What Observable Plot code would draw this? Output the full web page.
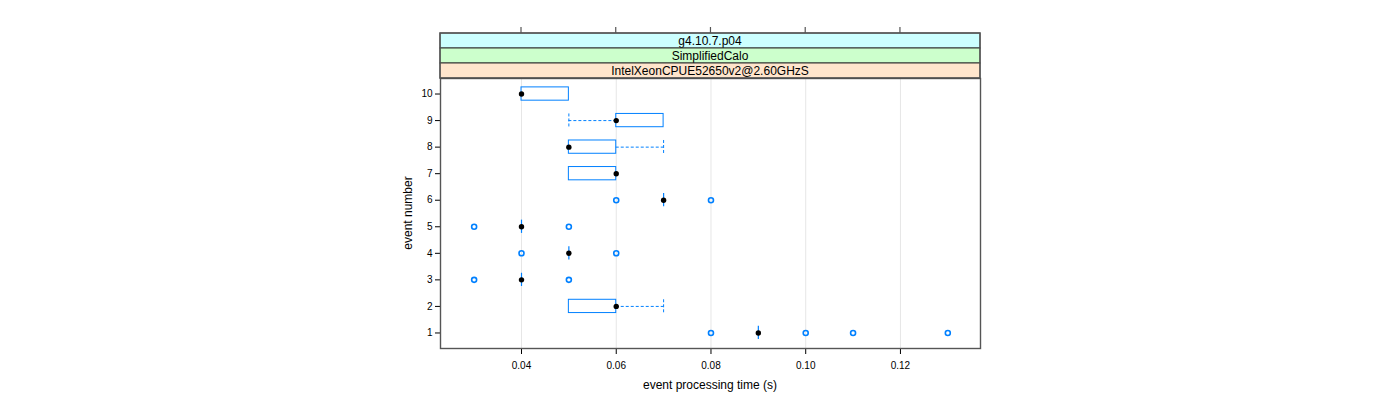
<!DOCTYPE html>
<html>
<head>
<meta charset="utf-8">
<script src="https://cdn.jsdelivr.net/npm/d3@7"></script>
<script src="https://cdn.jsdelivr.net/npm/@observablehq/plot@0.6"></script>
<style>
  html, body { margin: 0; padding: 0; background: #fff; }
  #chart { width: 1400px; height: 400px; }
  svg { font-family: "Liberation Sans", Arial, Helvetica, sans-serif; }
</style>
</head>
<body>
<div id="chart"></div>
<script>
// ---- data ----
const events       = ["1", "2", "3", "4", "5", "6", "7", "8", "9", "10"];
const lowerWhisker = [0.09, 0.05, 0.04, 0.05, 0.04, 0.07, 0.05, 0.05, 0.05, 0.04];
const q1           = [0.09, 0.05, 0.04, 0.05, 0.04, 0.07, 0.05, 0.05, 0.06, 0.04];
const median       = [0.09, 0.06, 0.04, 0.05, 0.04, 0.07, 0.06, 0.05, 0.06, 0.04];
const q3           = [0.09, 0.06, 0.04, 0.05, 0.04, 0.07, 0.06, 0.06, 0.07, 0.05];
const upperWhisker = [0.09, 0.07, 0.04, 0.05, 0.04, 0.07, 0.06, 0.07, 0.07, 0.05];
const outlierEvents = ["1", "1", "1", "1", "3", "3", "4", "4", "5", "5", "6", "6"];
const outlierValues = [0.08, 0.10, 0.11, 0.13, 0.03, 0.05, 0.04, 0.06, 0.03, 0.05, 0.06, 0.08];
const xTicks = [0.04, 0.06, 0.08, 0.10, 0.12];
const strips = ["g4.10.7.p04", "SimplifiedCalo", "IntelXeonCPUE52650v2@2.60GHzS"];
const stripColors = ["#ccffff", "#ccffcc", "#ffe5cc"];
const xLabel = "event processing time (s)";
const yLabel = "event number";

const stats = events.map((e, i) => ({
  event: e, lo: lowerWhisker[i], q1: q1[i], med: median[i], q3: q3[i], hi: upperWhisker[i]
}));
const outliers = outlierEvents.map((e, i) => ({event: e, value: outlierValues[i]}));

const blue = "#0080ff";
const W = 1400, H = 400;
const mL = 440, mR = 420, mT = 78, mB = 52;

const plot = Plot.plot({
  width: W,
  height: H,
  marginLeft: mL,
  marginRight: mR,
  marginTop: mT,
  marginBottom: mB,
  style: {fontFamily: "'Liberation Sans', Arial, Helvetica, sans-serif", fontSize: "10px", color: "#000", background: "#fff"},
  x: {domain: [0.0229, 0.1369]},
  y: {type: "band", domain: events.slice().reverse(), paddingInner: 0.5, paddingOuter: 0.335, align: 0.5, round: false},
  marks: [
    Plot.ruleX(xTicks, {stroke: "#e6e6e6", strokeWidth: 1}),
    // whiskers
    Plot.ruleY(stats.filter(d => d.lo < d.q1), {x1: "lo", x2: "q1", y: "event", stroke: blue, strokeDasharray: "3,2", strokeWidth: 1}),
    Plot.ruleY(stats.filter(d => d.hi > d.q3), {x1: "q3", x2: "hi", y: "event", stroke: blue, strokeDasharray: "3,2", strokeWidth: 1}),
    Plot.tickX(stats.filter(d => d.lo < d.q1), {x: "lo", y: "event", stroke: blue, strokeDasharray: "3,2", strokeWidth: 1}),
    Plot.tickX(stats.filter(d => d.hi > d.q3), {x: "hi", y: "event", stroke: blue, strokeDasharray: "3,2", strokeWidth: 1}),
    // boxes
    Plot.barX(stats.filter(d => d.q3 > d.q1), {x1: "q1", x2: "q3", y: "event", fill: "none", stroke: blue, strokeWidth: 1}),
    Plot.tickX(stats.filter(d => d.q3 === d.q1), {x: "q1", y: "event", stroke: blue, strokeWidth: 1.2}),
    // outliers
    Plot.dot(outliers, {x: "value", y: "event", r: 2.5, stroke: blue, strokeWidth: 1.6, fill: "none"}),
    // medians
    Plot.dot(stats, {x: "med", y: "event", r: 2.7, fill: "#000", stroke: "none"}),
    // axes
    Plot.axisX(xTicks, {anchor: "bottom", tickSize: 6, tickPadding: 7, tickFormat: d3.format(".2f"), label: null, fontSize: 10}),
    Plot.axisY({anchor: "left", tickSize: 5, tickPadding: 3, label: null, fontSize: 10}),
    Plot.frame({stroke: "#555", strokeWidth: 1.4})
  ]
});

document.getElementById("chart").appendChild(plot);

// ---- decorations: strips, top ticks, axis titles ----
const svg = d3.select(plot);
const xs = plot.scale("x");
const x0 = mL, x1 = W - mR;
const stripH = 15;
const stripTop = mT - stripH * strips.length;

strips.forEach((s, i) => {
  const y = stripTop + i * stripH;
  svg.append("rect").attr("x", x0).attr("y", y).attr("width", x1 - x0).attr("height", stripH)
    .attr("fill", stripColors[i]).attr("stroke", "#333").attr("stroke-width", 1);
  svg.append("text").attr("x", (x0 + x1) / 2).attr("y", y + stripH / 2).attr("dy", "0.36em")
    .attr("text-anchor", "middle").attr("font-size", 12).attr("fill", "#000").text(s);
});
svg.append("rect").attr("x", x0).attr("y", stripTop).attr("width", x1 - x0).attr("height", mT - stripTop)
  .attr("fill", "none").attr("stroke", "#555").attr("stroke-width", 1.4);

xTicks.forEach(v => {
  const px = xs.apply(v);
  svg.append("line").attr("x1", px).attr("x2", px).attr("y1", stripTop - 6).attr("y2", stripTop)
    .attr("stroke", "#555").attr("stroke-width", 1.2);
});

svg.append("text").attr("x", (x0 + x1) / 2).attr("y", H - 11)
  .attr("text-anchor", "middle").attr("font-size", 12).attr("fill", "#000").text(xLabel);
svg.append("text").attr("transform", `translate(${x0 - 32},${(mT + H - mB) / 2}) rotate(-90)`)
  .attr("dy", "0.36em").attr("text-anchor", "middle").attr("font-size", 12).attr("fill", "#000").text(yLabel);
</script>
</body>
</html>
